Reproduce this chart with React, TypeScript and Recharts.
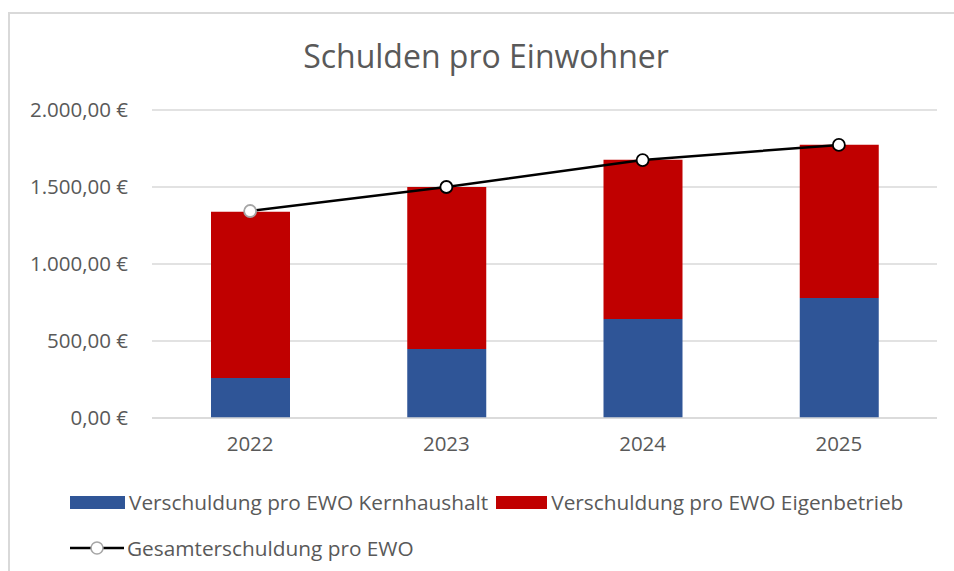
import { Bar, CartesianGrid, ComposedChart, Line, XAxis, YAxis } from 'recharts';

const years = ['2022', '2023', '2024', '2025'];
const kernhaushalt = [260, 448, 643, 779];
const eigenbetrieb = [1080, 1052, 1034, 996];
const gesamt = [1344, 1500, 1675, 1773];
const yTicks = [0, 500, 1000, 1500, 2000];

const BLUE = '#2F5597';
const RED = '#C00000';
const TEXT = '#595959';
const GRID = '#d9d9d9';
const FONT = '"Open Sans", "Noto Sans", sans-serif';

const data = years.map((year, i) => ({
  year,
  kern: kernhaushalt[i],
  eigen: eigenbetrieb[i],
  total: gesamt[i],
}));

const euro = (v: number) =>
  v.toLocaleString('de-DE', { minimumFractionDigits: 2, maximumFractionDigits: 2 }) + ' €';

function Dot(props: any) {
  const { cx, cy, index } = props;
  if (cx == null || cy == null) return null;
  return (
    <circle
      cx={cx}
      cy={cy}
      r={6}
      fill="#fff"
      stroke={index === 0 ? '#a6a6a6' : '#000'}
      strokeWidth={1.8}
    />
  );
}

export default function App() {
  return (
    <div
      style={{
        position: 'absolute',
        left: 0,
        top: 0,
        width: 954,
        height: 571,
        overflow: 'hidden',
        fontFamily: FONT,
      }}
    >
      <svg width={954} height={571} style={{ position: 'absolute', left: 0, top: 0 }}>
        <path d="M9 571 L9 13 L954 13" fill="none" stroke={GRID} strokeWidth={2} />
      </svg>
      <div
        style={{
          position: 'absolute',
          left: 13,
          width: 946,
          top: 34,
          textAlign: 'center',
          fontSize: 32,
          color: TEXT,
          whiteSpace: 'nowrap',
        }}
      >
        Schulden pro Einwohner
      </div>
      <ComposedChart
        width={954}
        height={571}
        data={data}
        margin={{ top: 110, right: 17, bottom: 113, left: 0 }}
        style={{ position: 'absolute', left: 0, top: 0 }}
      >
        <CartesianGrid vertical={false} stroke={GRID} strokeWidth={1.5} />
        <XAxis
          dataKey="year"
          axisLine={{ stroke: GRID, strokeWidth: 1.5 }}
          tickLine={false}
          tick={{ fill: TEXT, fontSize: 20.5, fontFamily: FONT }}
          tickMargin={12}
          height={40}
        />
        <YAxis
          width={152}
          domain={[0, 2000]}
          ticks={yTicks}
          axisLine={false}
          tickLine={false}
          tickSize={0}
          tickMargin={24}
          tickFormatter={euro}
          tick={{ fill: TEXT, fontSize: 20.5, fontFamily: FONT }}
        />
        <Bar dataKey="kern" stackId="s" fill={BLUE} barSize={79} isAnimationActive={false} />
        <Bar dataKey="eigen" stackId="s" fill={RED} barSize={79} isAnimationActive={false} />
        <Line
          dataKey="total"
          stroke="#000"
          strokeWidth={2.5}
          dot={<Dot />}
          activeDot={false}
          isAnimationActive={false}
        />
      </ComposedChart>
      <div
        style={{
          position: 'absolute',
          left: 70,
          top: 488,
          fontSize: 20.8,
          color: TEXT,
          display: 'flex',
          alignItems: 'center',
          whiteSpace: 'nowrap',
        }}
      >
        <span style={{ display: 'inline-block', width: 55, height: 13, background: BLUE, marginRight: 4 }} />
        <span>Verschuldung pro EWO Kernhaushalt</span>
        <span style={{ display: 'inline-block', width: 51, height: 13, background: RED, marginLeft: 8, marginRight: 4 }} />
        <span>Verschuldung pro EWO Eigenbetrieb</span>
      </div>
      <div
        style={{
          position: 'absolute',
          left: 70,
          top: 534,
          fontSize: 20.8,
          color: TEXT,
          display: 'flex',
          alignItems: 'center',
          whiteSpace: 'nowrap',
        }}
      >
        <svg width={54} height={16} style={{ marginRight: 3 }}>
          <line x1={0} y1={8} x2={54} y2={8} stroke="#000" strokeWidth={2.5} />
          <circle cx={27} cy={8} r={6} fill="#fff" stroke="#a6a6a6" strokeWidth={1.5} />
        </svg>
        <span>Gesamterschuldung pro EWO</span>
      </div>
    </div>
  );
}
